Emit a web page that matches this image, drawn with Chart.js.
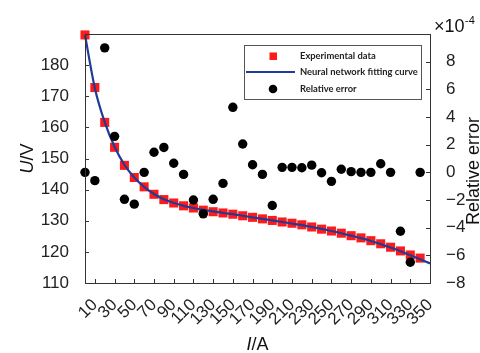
<!DOCTYPE html>
<html>
<head>
<meta charset="utf-8">
<script src="https://cdn.jsdelivr.net/npm/chart.js@4"></script>
<style>
  html, body { margin: 0; padding: 0; background: #fff; }
  #wrap { width: 480px; height: 353px; }
</style>
</head>
<body>
<div id="wrap"><canvas id="chart" width="480" height="353"></canvas></div>
<script>
// current I (A)
const current = [0, 10, 20, 30, 40, 50, 60, 70, 80, 90, 100, 110, 120, 130, 140, 150, 160,
  170, 180, 190, 200, 210, 220, 230, 240, 250, 260, 270, 280, 290, 300, 310, 320, 330, 340];

// measured voltage U (V)
const voltage = [189.7, 172.8, 161.6, 153.6, 147.8, 143.9, 140.9, 138.5, 136.8, 135.7, 134.8,
  134.1, 133.4, 132.9, 132.5, 132.1, 131.6, 131.1, 130.6, 130.1, 129.6, 129.2, 128.7, 128.0,
  127.3, 126.7, 126.0, 125.2, 124.5, 123.6, 122.6, 121.5, 120.3, 119.0, 118.0];

// neural network fitting curve
const fitCurrent = [0, 10, 20, 30, 40, 50, 60, 70, 80, 90, 100, 110, 120, 130, 140, 150, 160,
  170, 180, 190, 200, 210, 220, 230, 240, 250, 260, 270, 280, 290, 300, 310, 320, 330, 340, 350];
const fitVoltage = [189.7, 172.6, 161.7, 153.8, 148.0, 143.9, 140.9, 138.6, 136.9, 135.7, 134.8,
  134.1, 133.5, 133.0, 132.5, 132.1, 131.6, 131.1, 130.6, 130.1, 129.6, 129.1, 128.6, 128.0,
  127.4, 126.7, 126.0, 125.2, 124.4, 123.5, 122.5, 121.4, 120.2, 118.9, 117.6, 116.3];

// relative error, in units of 1e-4
const relError = [0, -0.6, 9.0, 2.6, -1.95, -2.3, 0, 1.45, 1.8, 0.66, -0.15, -2.0, -3.0,
  -1.95, -0.8, 4.7, 2.05, 0.55, -0.15, -2.4, 0.36, 0.36, 0.33, 0.52, -0.03, -0.65, 0.22,
  0.05, 0, 0, 0.62, 0, -4.26, -6.5, 0];

// tick labels
const xTicks = [10, 30, 50, 70, 90, 110, 130, 150, 170, 190, 210, 230, 250, 270, 290, 310, 330, 350];
const yTicks = [110, 120, 130, 140, 150, 160, 170, 180];
const y2Ticks = [-8, -6, -4, -2, 0, 2, 4, 6, 8];

const labels = ['Experimental data', 'Neural network fitting curve', 'Relative error'];

const RED = '#ff1a1a';
const BLUE = '#1e3c96';
const AXIS = '#333333';
const tickFont = { family: '"Liberation Sans", Arial, sans-serif', size: 17 };

const pairs = (xs, ys) => xs.map((x, i) => ({ x, y: ys[i] }));

// frame, inward tick marks, legend and axis titles
const decorations = {
  id: 'decorations',
  afterDraw (chart) {
    const ctx = chart.ctx;
    const a = chart.chartArea;
    const sx = chart.scales.x, sy = chart.scales.y, sy2 = chart.scales.y2;

    ctx.save();
    ctx.strokeStyle = AXIS;
    ctx.lineWidth = 1;
    ctx.strokeRect(Math.round(a.left) + 0.5, Math.round(a.top) + 0.5,
      Math.round(a.right - a.left), Math.round(a.bottom - a.top));

    ctx.beginPath();
    sx.ticks.forEach(t => {
      const px = Math.round(sx.getPixelForValue(t.value)) + 0.5;
      ctx.moveTo(px, a.bottom);
      ctx.lineTo(px, a.bottom - 4);
    });
    sy.ticks.forEach(t => {
      const py = Math.round(sy.getPixelForValue(t.value)) + 0.5;
      ctx.moveTo(a.left, py);
      ctx.lineTo(a.left + 4, py);
    });
    sy2.ticks.forEach(t => {
      const py = Math.round(sy2.getPixelForValue(t.value)) + 0.5;
      ctx.moveTo(a.right, py);
      ctx.lineTo(a.right - 4, py);
    });
    ctx.stroke();

    // legend
    const lx = 244, ly = 45, lw = 177, lh = 54;
    ctx.fillStyle = '#fff';
    ctx.fillRect(lx, ly, lw, lh);
    ctx.strokeStyle = '#555';
    ctx.strokeRect(lx + 0.5, ly + 0.5, lw, lh);

    ctx.fillStyle = RED;
    ctx.fillRect(269.5, 52.5, 7.5, 7.5);
    ctx.strokeStyle = BLUE;
    ctx.lineWidth = 2;
    ctx.beginPath();
    ctx.moveTo(246, 72);
    ctx.lineTo(295, 72);
    ctx.stroke();
    ctx.fillStyle = '#000';
    ctx.beginPath();
    ctx.arc(273, 89, 4.3, 0, Math.PI * 2);
    ctx.fill();

    ctx.fillStyle = '#222';
    ctx.font = 'bold 9.4px Lato, sans-serif';
    ctx.textBaseline = 'middle';
    ctx.textAlign = 'left';
    labels.forEach((s, i) => ctx.fillText(s, 300, [56, 72, 89][i]));

    // axis titles
    const ff = '"Liberation Sans", Arial, sans-serif';
    ctx.fillStyle = '#111';
    ctx.textBaseline = 'alphabetic';

    // I/A
    ctx.font = 'italic 18px ' + ff;
    let w1 = ctx.measureText('I').width;
    ctx.font = '18px ' + ff;
    let w2 = ctx.measureText('/A').width;
    let x0 = (a.left + a.right) / 2 - (w1 + w2) / 2;
    ctx.font = 'italic 18px ' + ff;
    ctx.fillText('I', x0, 350);
    ctx.font = '18px ' + ff;
    ctx.fillText('/A', x0 + w1, 350);

    // U/V
    ctx.save();
    ctx.translate(33, (a.top + a.bottom) / 2);
    ctx.rotate(-Math.PI / 2);
    ctx.font = 'italic 18px ' + ff;
    w1 = ctx.measureText('U').width;
    ctx.font = '18px ' + ff;
    w2 = ctx.measureText('/V').width;
    x0 = -(w1 + w2) / 2;
    ctx.font = 'italic 18px ' + ff;
    ctx.fillText('U', x0, 0);
    ctx.font = '18px ' + ff;
    ctx.fillText('/V', x0 + w1, 0);
    ctx.restore();

    // Relative error
    ctx.save();
    ctx.translate(479, 171);
    ctx.rotate(-Math.PI / 2);
    ctx.font = '18px ' + ff;
    ctx.textAlign = 'center';
    ctx.fillText('Relative error', 0, 0);
    ctx.restore();

    // x10^-4
    ctx.font = '18px ' + ff;
    ctx.textAlign = 'left';
    ctx.fillText('\u00d710', 434, 32);
    ctx.font = '11px ' + ff;
    ctx.fillText('-4', 465, 24);

    ctx.restore();
  }
};

new Chart(document.getElementById('chart'), {
  type: 'scatter',
  data: {
    datasets: [
      {
        label: labels[2],
        data: pairs(current, relError),
        yAxisID: 'y2',
        order: 0,
        pointStyle: 'circle',
        pointRadius: 4.7,
        backgroundColor: '#000',
        borderWidth: 0,
        clip: false
      },
      {
        type: 'line',
        label: labels[1],
        data: pairs(fitCurrent, fitVoltage),
        yAxisID: 'y',
        order: 1,
        borderColor: BLUE,
        borderWidth: 2.2,
        pointRadius: 0,
        cubicInterpolationMode: 'monotone',
        fill: false,
        clip: false
      },
      {
        label: labels[0],
        data: pairs(current, voltage),
        yAxisID: 'y',
        order: 2,
        pointStyle: 'rect',
        pointRadius: 6.4,
        backgroundColor: RED,
        borderWidth: 0,
        clip: false
      }
    ]
  },
  options: {
    responsive: false,
    animation: false,
    layout: { padding: { top: 34, left: 0, right: 0, bottom: 0 } },
    plugins: {
      legend: { display: false },
      tooltip: { enabled: false }
    },
    scales: {
      x: {
        type: 'linear',
        min: 0,
        max: 350,
        grid: { display: false },
        border: { display: false },
        afterBuildTicks: s => { s.ticks = xTicks.map(v => ({ value: v })); },
        afterFit: s => { s.height = 70; },
        ticks: {
          font: tickFont,
          color: '#222',
          autoSkip: false,
          minRotation: 45,
          maxRotation: 45,
          padding: 4
        }
      },
      y: {
        position: 'left',
        min: 110,
        max: 190,
        grid: { display: false },
        border: { display: false },
        afterBuildTicks: s => { s.ticks = yTicks.map(v => ({ value: v })); },
        afterFit: s => { s.width = 85; },
        ticks: { font: tickFont, color: '#222', padding: 8 }
      },
      y2: {
        position: 'right',
        min: -8,
        max: 10,
        grid: { display: false },
        border: { display: false },
        afterBuildTicks: s => { s.ticks = y2Ticks.map(v => ({ value: v })); },
        afterFit: s => { s.width = 50; },
        ticks: {
          font: tickFont,
          color: '#222',
          padding: 8,
          callback: v => (v < 0 ? '\u2212' + Math.abs(v) : String(v))
        }
      }
    }
  },
  plugins: [decorations]
});
</script>
</body>
</html>
